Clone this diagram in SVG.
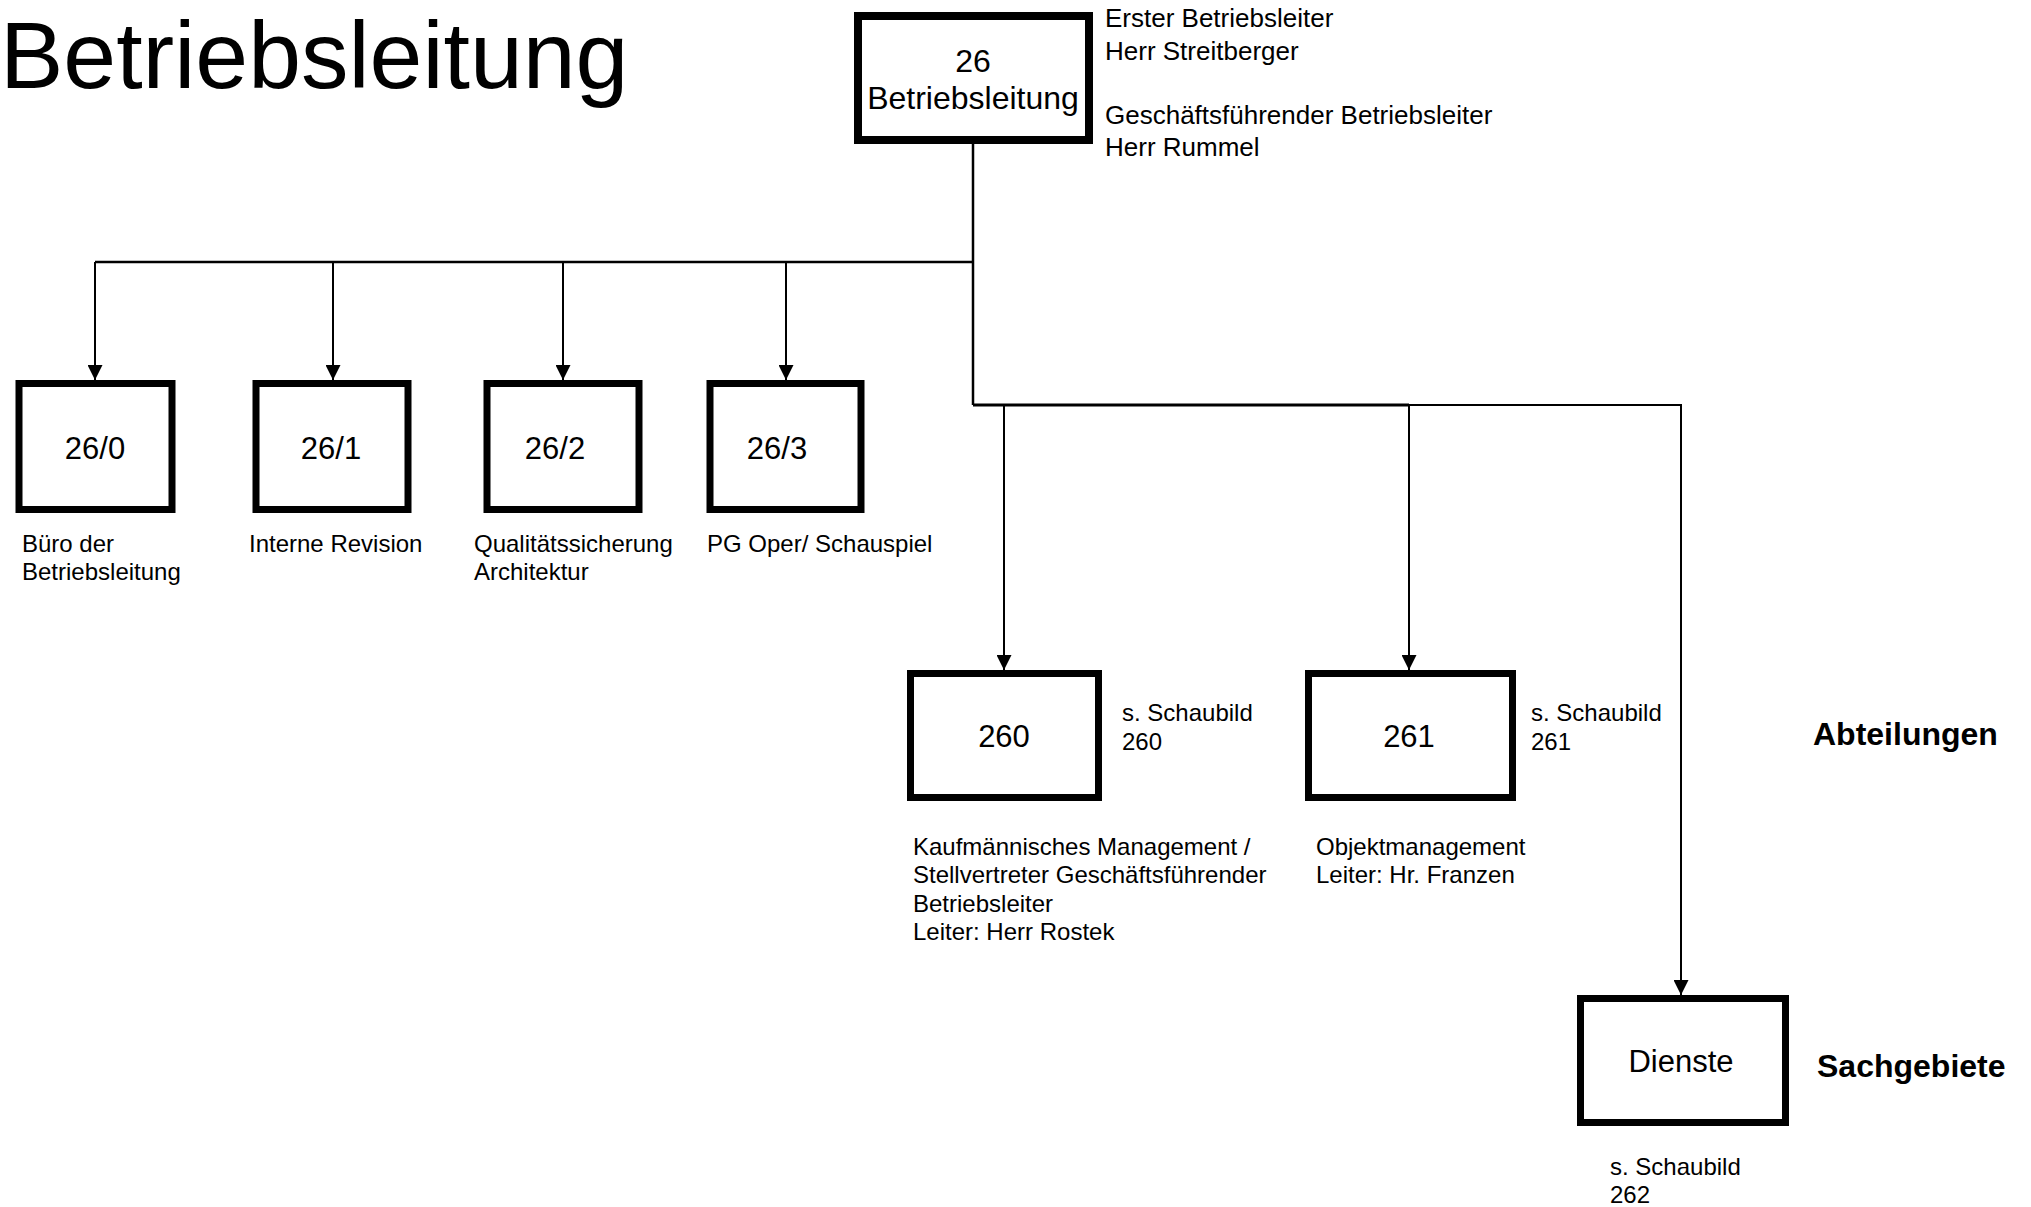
<svg xmlns="http://www.w3.org/2000/svg" width="2031" height="1207" viewBox="0 0 2031 1207">
<style>
text{font-family:"Liberation Sans",Arial,sans-serif;fill:#000}
.box{fill:#fff;stroke:#000;stroke-width:7}
.bl{font-size:31px;text-anchor:middle}
.lab{font-size:24px}
.side{font-size:26px}
.bold{font-size:32px;font-weight:bold}
.con{fill:none;stroke:#000;stroke-width:2}
</style>
<defs>
<marker id="arr" markerUnits="userSpaceOnUse" viewBox="0 0 15 15" markerWidth="15" markerHeight="15" refX="15" refY="7.5" orient="auto">
<path d="M0,0 L15,7.5 L0,15 z" fill="#000"/>
</marker>
</defs>
<rect width="2031" height="1207" fill="#fff"/>
<text x="0" y="88" style="font-size:95px">Betriebsleitung</text>

<g id="connectors">
<path class="con" d="M973,142 V405" style="stroke-width:2.5"/>
<path class="con" d="M973,262 H95" style="stroke-width:2.5"/>
<path class="con" d="M95,262 V380" marker-end="url(#arr)"/>
<path class="con" d="M333,262 V380" marker-end="url(#arr)"/>
<path class="con" d="M563,262 V380" marker-end="url(#arr)"/>
<path class="con" d="M786,262 V380" marker-end="url(#arr)"/>
<path class="con" d="M973,405 H1409" style="stroke-width:2.8"/>
<path class="con" d="M1409,405 H1681 V995" marker-end="url(#arr)"/>
<path class="con" d="M1004,405 V670" marker-end="url(#arr)"/>
<path class="con" d="M1409,405 V670" marker-end="url(#arr)"/>
</g>

<g id="n26">
<rect class="box" x="858" y="16" width="231" height="124" style="stroke-width:8"/>
<text class="bl" x="973" y="72" style="font-size:32px">26</text>
<text class="bl" x="973" y="109" style="font-size:32px">Betriebsleitung</text>
<text class="side" x="1105" y="27">Erster Betriebsleiter</text>
<text class="side" x="1105" y="60">Herr Streitberger</text>
<text class="side" x="1105" y="124">Geschäftsführender Betriebsleiter</text>
<text class="side" x="1105" y="156">Herr Rummel</text>
</g>

<g id="n26_0">
<rect class="box" x="19" y="383.5" width="153" height="126"/>
<text class="bl" x="95" y="459">26/0</text>
<text class="lab" x="22" y="552">Büro der</text>
<text class="lab" x="22" y="580">Betriebsleitung</text>
</g>

<g id="n26_1">
<rect class="box" x="256" y="383.5" width="152" height="126"/>
<text class="bl" x="331" y="459">26/1</text>
<text class="lab" x="249" y="552">Interne Revision</text>
</g>

<g id="n26_2">
<rect class="box" x="487" y="383.5" width="152" height="126"/>
<text class="bl" x="555" y="459">26/2</text>
<text class="lab" x="474" y="552">Qualitätssicherung</text>
<text class="lab" x="474" y="580">Architektur</text>
</g>

<g id="n26_3">
<rect class="box" x="710" y="383.5" width="151" height="126"/>
<text class="bl" x="777" y="459">26/3</text>
<text class="lab" x="707" y="552">PG Oper/ Schauspiel</text>
</g>

<g id="n260">
<rect class="box" x="910.5" y="673.5" width="188" height="124"/>
<text class="bl" x="1004" y="747">260</text>
<text class="lab" x="1122" y="721">s. Schaubild</text>
<text class="lab" x="1122" y="750">260</text>
<text class="lab" x="913" y="855">Kaufmännisches Management /</text>
<text class="lab" x="913" y="883">Stellvertreter Geschäftsführender</text>
<text class="lab" x="913" y="912">Betriebsleiter</text>
<text class="lab" x="913" y="940">Leiter: Herr Rostek</text>
</g>

<g id="n261">
<rect class="box" x="1308.5" y="673.5" width="204" height="124"/>
<text class="bl" x="1409" y="747">261</text>
<text class="lab" x="1531" y="721">s. Schaubild</text>
<text class="lab" x="1531" y="750">261</text>
<text class="lab" x="1316" y="855">Objektmanagement</text>
<text class="lab" x="1316" y="883">Leiter: Hr. Franzen</text>
</g>

<g id="nDienste">
<rect class="box" x="1580.5" y="998.5" width="205" height="124"/>
<text class="bl" x="1681" y="1072">Dienste</text>
<text class="lab" x="1610" y="1175">s. Schaubild</text>
<text class="lab" x="1610" y="1203">262</text>
</g>

<g id="legend">
<text class="bold" x="1813" y="745">Abteilungen</text>
<text class="bold" x="1817" y="1077">Sachgebiete</text>
</g>
</svg>
